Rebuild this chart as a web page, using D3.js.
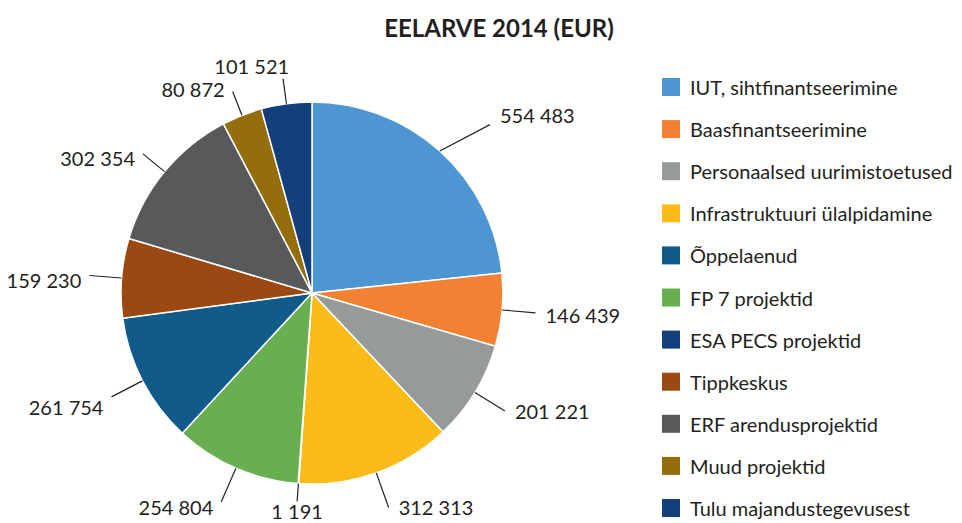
<!DOCTYPE html>
<html>
<head>
<meta charset="utf-8">
<script src="https://cdn.jsdelivr.net/npm/d3@7"></script>
<style>
  body { margin: 0; background: #fff; }
  text { font-family: Lato, "Open Sans", sans-serif; fill: #231f20; }
</style>
</head>
<body>
<div id="chart"></div>
<script>
// legend order
var categories = ["IUT, sihtfinantseerimine", "Baasfinantseerimine", "Personaalsed uurimistoetused",
    "Infrastruktuuri ülalpidamine", "Õppelaenud", "FP 7 projektid", "ESA PECS projektid",
    "Tippkeskus", "ERF arendusprojektid", "Muud projektid", "Tulu majandustegevusest"];
var colors = ["#4e96d2", "#f38134", "#979a9b", "#fbbc1a", "#115b8b", "#68af4f", "#133f7a",
    "#9c4812", "#58595b", "#946e0d", "#133f7a"];
// slices clockwise from 12 o'clock
var sliceCats = ["IUT, sihtfinantseerimine", "Baasfinantseerimine", "Personaalsed uurimistoetused",
    "Infrastruktuuri ülalpidamine", "ESA PECS projektid", "FP 7 projektid", "Õppelaenud",
    "Tippkeskus", "ERF arendusprojektid", "Muud projektid", "Tulu majandustegevusest"];
var sliceValues = [554483, 146439, 201221, 312313, 1191, 254804, 261754, 159230, 302354, 80872, 101521];

var width = 962, height = 523;
var cx = 312, cy = 293, r = 191;

var svg = d3.select("#chart").append("svg")
    .attr("width", width)
    .attr("height", height);

svg.append("text")
    .attr("x", 499).attr("y", 37)
    .attr("text-anchor", "middle")
    .attr("font-size", "24px")
    .attr("font-weight", "bold")
    .text("EELARVE 2014 (EUR)");

var color = d3.scaleOrdinal().domain(categories).range(colors);

var data = sliceCats.map(function(c, i) { return {cat: c, value: sliceValues[i]}; });
var pie = d3.pie().sort(null).value(function(d) { return d.value; });
var arcs = pie(data);
var arc = d3.arc().innerRadius(0).outerRadius(r);

var g = svg.append("g").attr("transform", "translate(" + cx + "," + cy + ")");

g.selectAll("path")
    .data(arcs)
    .enter()
    .append("path")
    .attr("d", arc)
    .attr("fill", function(d) { return color(d.data.cat); })
    .attr("stroke", "#fff")
    .attr("stroke-width", 1.5);

// leader lines + value labels (rough excel best-fit placement)
var fmt = function(v) { return d3.format(",")(v).replace(/,/g, " "); };

arcs.forEach(function(d) {
    var a = (d.startAngle + d.endAngle) / 2;
    var s = Math.sin(a), c = Math.cos(a);
    var bottom = Math.abs(s) < 0.15 && c < 0;
    var upperRight = s > 0.15 && c > 0.15;
    var lineR = bottom ? r + 18 : (c < 0 ? 224 - 4 * c : 224 - 8 * c);
    var ea = a;
    if (upperRight) { lineR = 245; ea = a + 0.08; }
    var sx = s * r, sy = -c * r;
    var ex = Math.sin(ea) * lineR, ey = -Math.cos(ea) * lineR;
    g.append("line")
        .attr("x1", sx).attr("y1", sy)
        .attr("x2", ex).attr("y2", ey)
        .attr("stroke", "#231f20")
        .attr("stroke-width", 1.2);
    var t = g.append("text")
        .attr("font-size", "20px")
        .attr("dominant-baseline", "central")
        .text(fmt(d.data.value));
    if (bottom) {
        t.attr("text-anchor", "middle").attr("x", ex).attr("y", ey + 10);
    } else if (Math.abs(s) < 0.15) {
        t.attr("text-anchor", "end").attr("x", ex + 6).attr("y", ey - 13);
    } else if (s > 0) {
        t.attr("text-anchor", "start").attr("x", ex + 10)
            .attr("y", ey + (c > 0.5 ? -10 : (c < -0.3 ? 0 : 2)));
    } else {
        t.attr("text-anchor", "end").attr("x", ex - 8)
            .attr("y", ey + (c < -0.7 ? 5 : (c < -0.3 ? 10 : (c > 0.8 ? -3 : 4))));
    }
});

// legend
var legY = d3.scalePoint().domain(categories).range([87, 508]);
var leg = svg.append("g").selectAll("g")
    .data(categories)
    .enter()
    .append("g")
    .attr("transform", function(d) { return "translate(662," + legY(d) + ")"; });

leg.append("rect")
    .attr("x", 0).attr("y", -9)
    .attr("width", 18).attr("height", 18)
    .attr("fill", function(d) { return color(d); });

leg.append("text")
    .attr("x", 28).attr("y", 0)
    .attr("dominant-baseline", "central")
    .attr("font-size", "20px")
    .text(function(d) { return d; });
</script>
</body>
</html>
